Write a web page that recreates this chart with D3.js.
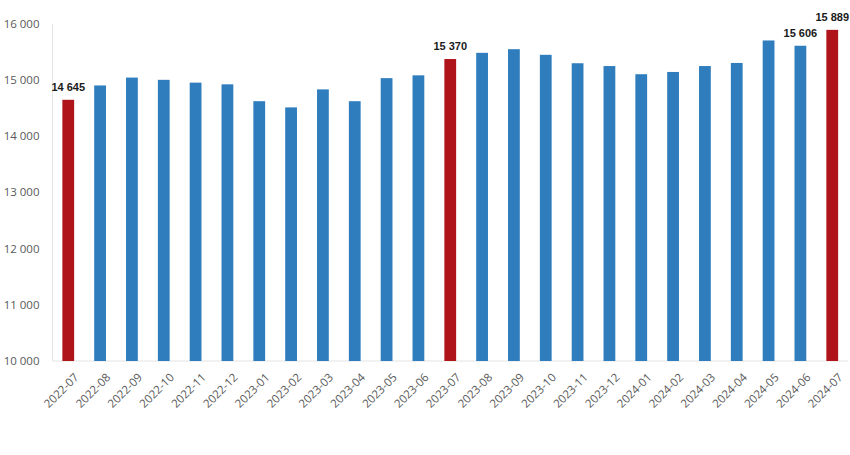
<!DOCTYPE html>
<html><head><meta charset="utf-8">
<script src="https://cdn.jsdelivr.net/npm/d3@7"></script>
<style>body{margin:0;background:#fff}svg{display:block}</style>
</head><body>
<svg id="c" width="850" height="455"></svg>
<script>
const categories = ["2022-07","2022-08","2022-09","2022-10","2022-11","2022-12","2023-01","2023-02","2023-03","2023-04","2023-05","2023-06","2023-07","2023-08","2023-09","2023-10","2023-11","2023-12","2024-01","2024-02","2024-03","2024-04","2024-05","2024-06","2024-07"];
const values = [14645,14900,15040,15000,14950,14920,14620,14510,14830,14620,15030,15080,15370,15480,15545,15445,15295,15245,15100,15140,15245,15300,15700,15606,15889];
const highlighted = ["2022-07","2023-07","2024-07"];
const labelled = ["2022-07","2023-07","2024-06","2024-07"];
const yTicks = [10000,11000,12000,13000,14000,15000,16000];

const svg = d3.select("#c");
const mLeft = 52.5, mRight = 848, mTop = 23.6, mBottom = 361;
const x = d3.scaleBand().domain(categories).range([mLeft, mRight]).paddingInner(0.63).paddingOuter(0.31);
const y = d3.scaleLinear().domain([10000,16000]).range([mBottom, mTop]);
const fmt = v => d3.format(",")(v).replace(/,/g, " ");

svg.append("line").attr("x1", mLeft).attr("x2", mLeft).attr("y1", mTop).attr("y2", mBottom).attr("stroke", "#e6e6e6");
svg.append("line").attr("x1", mLeft).attr("x2", mRight).attr("y1", mBottom).attr("y2", mBottom).attr("stroke", "#e3e3e3");

const yAxis = d3.axisLeft(y).tickValues(yTicks).tickFormat(fmt).tickSize(0).tickPadding(13);
const gy = svg.append("g").attr("transform", `translate(${mLeft},0)`).call(yAxis);
gy.select(".domain").remove();
gy.selectAll("text").attr("fill", "#595959").style("font-family", "'Open Sans', sans-serif").style("font-size", "11.5px");

svg.append("g").selectAll("rect").data(categories).join("rect")
  .attr("x", d => x(d)).attr("width", x.bandwidth())
  .attr("y", (d,i) => y(values[i])).attr("height", (d,i) => mBottom - y(values[i]))
  .attr("fill", d => highlighted.includes(d) ? "#ae1419" : "#2f7dbd");

const xAxis = d3.axisBottom(x).tickSize(0).tickPadding(6);
const gx = svg.append("g").attr("transform", `translate(0,${mBottom})`).call(xAxis);
gx.select(".domain").remove();
gx.selectAll("text").attr("fill", "#595959").style("font-family", "'Open Sans', sans-serif").style("font-size", "11.5px")
  .attr("text-anchor", "end").attr("dy", "0.35em")
  .attr("transform", "translate(4,10) rotate(-45)");

svg.append("g").selectAll("text").data(categories.filter(c => labelled.includes(c))).join("text")
  .attr("x", d => x(d) + x.bandwidth()/2)
  .attr("y", d => y(values[categories.indexOf(d)]) - 9)
  .attr("text-anchor", "middle")
  .style("font-family", "'Liberation Sans', Arial, sans-serif").style("font-size", "11px").style("font-weight", "bold")
  .attr("fill", "#1a1a1a")
  .text(d => fmt(values[categories.indexOf(d)]));
</script>
</body></html>
